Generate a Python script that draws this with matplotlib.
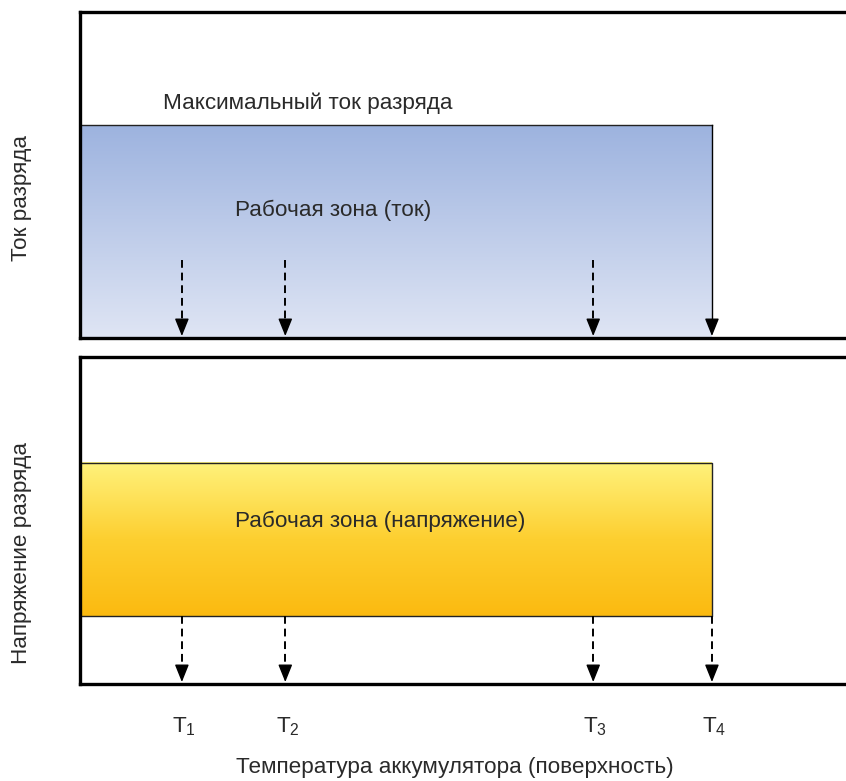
import matplotlib
matplotlib.use("Agg")
import matplotlib.pyplot as plt
import numpy as np
from matplotlib.colors import LinearSegmentedColormap

plt.rcParams['font.family'] = ['Liberation Sans', 'DejaVu Sans']
plt.rcParams['mathtext.fontset'] = 'custom'

# ---- data ----
t_labels = ["1", "2", "3", "4"]
t_positions = [13.3, 26.8, 67.0, 82.5]          # temperature axis (0..100)
current_zone_top = 65.3                          # current panel, working zone upper limit
current_arrow_start = 23.9
voltage_zone = [20.8, 67.6]                      # voltage panel, working zone limits
xlabel = "Температура аккумулятора (поверхность)"
ylabel_top = "Ток разряда"
ylabel_bottom = "Напряжение разряда"
max_current_label = "Максимальный ток разряда"
zone_current_label = "Рабочая зона (ток)"
zone_voltage_label = "Рабочая зона (напряжение)"

fs = 16.2
tc = '#2a2a2a'

fig = plt.figure(figsize=(8.46, 7.81), dpi=100)
ax1 = fig.add_axes([80/846, (781-338)/781, (846-80)/846, (338-12)/781])
ax2 = fig.add_axes([80/846, (781-684)/781, (846-80)/846, (684-357)/781])

blue = LinearSegmentedColormap.from_list("b", ["#dfe5f4", "#9db3df"])
yellow = LinearSegmentedColormap.from_list("y", ["#fbba10", "#fdcf30", "#fff27c"])

for ax in (ax1, ax2):
    ax.set_xlim(0, 100)
    ax.set_ylim(0, 100)
    ax.set_xticks([])
    ax.set_yticks([])
    ax.spines['right'].set_visible(False)
    for s in ('left', 'top', 'bottom'):
        ax.spines[s].set_linewidth(2.4)
        ax.spines[s].set_color('black')
        ax.spines[s].set_zorder(10)

grad = np.linspace(0, 1, 256).reshape(-1, 1)
head_kw = dict(arrowstyle='-|>,head_length=0.77,head_width=0.31', color='black',
               lw=1.0, shrinkA=0, shrinkB=0, mutation_scale=14)
dash = (0, (4, 2.5))


def arrow(ax, x, y0, y1, dashed=True):
    # shaft
    ax.plot([x, x], [y0, y1 + 3], color='black', lw=1.4 if dashed else 1.0,
            linestyle=dash if dashed else '-', zorder=4)
    # solid head
    ax.annotate("", xy=(x, y1), xytext=(x, y1 + 5), arrowprops=head_kw, zorder=5)


# top panel: current
ax1.imshow(grad, extent=[0, t_positions[-1], 0, current_zone_top], origin='lower',
           cmap=blue, aspect='auto', zorder=1)
ax1.plot([0, t_positions[-1]], [current_zone_top, current_zone_top], color='#222222', lw=1.0, zorder=3)
ax1.text(10.8, 72.1, max_current_label, fontsize=fs, va='center', ha='left', color=tc)
ax1.text(20.2, 39.3, zone_current_label, fontsize=fs, va='center', ha='left', color=tc)

for i, t in enumerate(t_positions):
    if i < len(t_positions) - 1:
        arrow(ax1, t, current_arrow_start, 0.6, dashed=True)
    else:
        arrow(ax1, t, current_zone_top, 0.6, dashed=False)

# bottom panel: voltage
ax2.imshow(grad, extent=[0, t_positions[-1], voltage_zone[0], voltage_zone[1]], origin='lower',
           cmap=yellow, aspect='auto', zorder=1)
ax2.plot([0, t_positions[-1], t_positions[-1], 0], [voltage_zone[1], voltage_zone[1], voltage_zone[0], voltage_zone[0]],
         color='#222222', lw=1.0, zorder=3)
ax2.text(20.2, 49.8, zone_voltage_label, fontsize=fs, va='center', ha='left', color=tc)
for t in t_positions:
    arrow(ax2, t, voltage_zone[0], 0.6, dashed=True)

for t, lab in zip(t_positions, t_labels):
    ax2.text(t + 0.3, -13.1, r"T$_\mathregular{" + lab + "}$", fontsize=fs,
             ha='center', va='center', color=tc, clip_on=False)

fig.text(455/846, (781-768)/781, xlabel, fontsize=fs, ha='center', va='center', color=tc)
fig.text(22/846, (781-198)/781, ylabel_top, fontsize=fs, rotation=90, ha='center', va='center', color=tc)
fig.text(22/846, (781-553)/781, ylabel_bottom, fontsize=fs, rotation=90, ha='center', va='center', color=tc)

fig.savefig("out.png", dpi=100)
